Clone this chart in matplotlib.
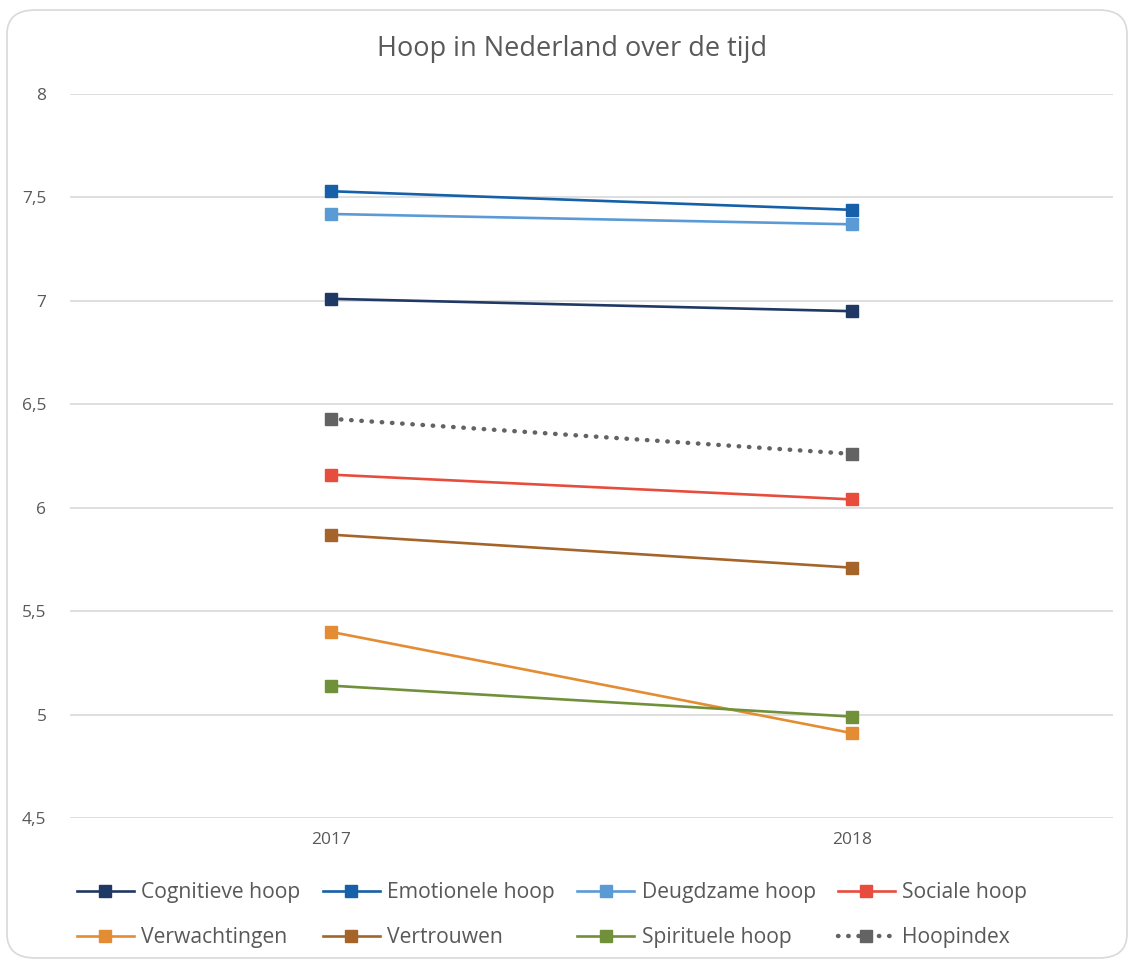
import matplotlib.pyplot as plt
from matplotlib.patches import FancyBboxPatch
from matplotlib.ticker import FuncFormatter

plt.rcParams['font.family'] = ['Open Sans', 'DejaVu Sans']

jaren = ['2017', '2018']
reeksen = ['Cognitieve hoop', 'Emotionele hoop', 'Deugdzame hoop', 'Sociale hoop',
           'Verwachtingen', 'Vertrouwen', 'Spirituele hoop', 'Hoopindex']
cognitief = [7.01, 6.95]
emotioneel = [7.53, 7.44]
deugdzaam = [7.42, 7.37]
sociaal = [6.16, 6.04]
verwachtingen = [5.40, 4.91]
vertrouwen = [5.87, 5.71]
spiritueel = [5.14, 4.99]
hoopindex = [6.43, 6.26]

waarden = [cognitief, emotioneel, deugdzaam, sociaal,
           verwachtingen, vertrouwen, spiritueel, hoopindex]
kleuren = ['#1f3864', '#1560a8', '#5b9bd5', '#e74c3c',
           '#e48c34', '#a5652a', '#70903a', '#636363']

W, H = 1129, 960
fig = plt.figure(figsize=(W / 100, H / 100), dpi=100)

# afgeronde rand rond de grafiek
rand = FancyBboxPatch((7 / W, 1 - 958 / H), (1127 - 7) / W, (958 - 10) / H,
                      boxstyle='round,pad=0,rounding_size=0.025',
                      transform=fig.transFigure, fill=False,
                      edgecolor='#d9d9d9', linewidth=1.2, clip_on=False)
fig.patches.append(rand)

ax = fig.add_axes([70 / W, 1 - 818 / H, (1113 - 70) / W, (818 - 94) / H])

x = list(range(len(jaren)))
lijnen = []
for naam, y, kleur in zip(reeksen, waarden, kleuren):
    if naam == 'Hoopindex':
        l, = ax.plot(x, y, color=kleur, linewidth=3.2, linestyle=(0, (0.1, 2.2)),
                     dash_capstyle='round', marker='s', markersize=8, label=naam, zorder=3)
    else:
        l, = ax.plot(x, y, color=kleur, linewidth=1.9, marker='s', markersize=8,
                     label=naam, zorder=3)
    lijnen.append(l)

ax.set_xlim(-0.5, 1.5)
ax.set_ylim(4.5, 8)
ax.set_xticks(x)
ax.set_xticklabels(jaren)
ax.set_yticks([4.5, 5, 5.5, 6, 6.5, 7, 7.5, 8])
ax.yaxis.set_major_formatter(FuncFormatter(lambda v, p: ('%g' % v).replace('.', ',')))
ax.grid(axis='y', color='#d9d9d9', linewidth=1.2)
ax.set_axisbelow(True)
for s in ax.spines.values():
    s.set_visible(False)
ax.tick_params(length=0, labelsize=12.5, colors='#595959')
ax.tick_params(axis='y', pad=17)
ax.tick_params(axis='x', pad=10)

fig.text(572 / W, 1 - 49 / H, 'Hoop in Nederland over de tijd',
         ha='center', va='center', fontsize=19.5, color='#595959')

# legenda rij voor rij vullen
volgorde = [0, 4, 1, 5, 2, 6, 3, 7]
fig.legend([lijnen[i] for i in volgorde], [reeksen[i] for i in volgorde],
           loc='lower left', bbox_to_anchor=(58 / W, 1 - 967 / H), ncol=4,
           frameon=False, fontsize=15.2, labelcolor='#595959', handlelength=2.7,
           columnspacing=1.05, handletextpad=0.35, labelspacing=1.12)

fig.savefig('out.png', dpi=100)
